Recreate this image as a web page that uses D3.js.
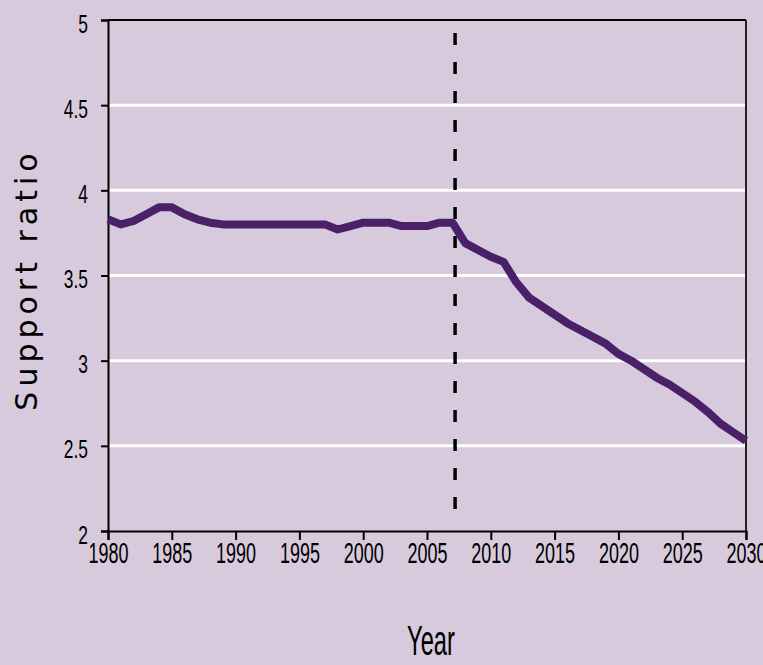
<!DOCTYPE html>
<html>
<head>
<meta charset="utf-8">
<script src="https://cdn.jsdelivr.net/npm/d3@7"></script>
<style>
  html, body { margin: 0; padding: 0; background: #d6cadc; }
  svg { display: block; }
  .tick text { font-family: "Liberation Sans", Arial, sans-serif; fill: #000; }
</style>
</head>
<body>
<div id="chart"></div>
<script>
// support ratio by year
const years = d3.range(1980, 2031);
const ratio = [
  3.83, 3.80, 3.82, 3.86, 3.90, 3.90, 3.86, 3.83, 3.81, 3.80,
  3.80, 3.80, 3.80, 3.80, 3.80, 3.80, 3.80, 3.80, 3.77, 3.79,
  3.81, 3.81, 3.81, 3.79, 3.79, 3.79, 3.81, 3.81, 3.69, 3.65,
  3.61, 3.58, 3.46, 3.37, 3.32, 3.27, 3.22, 3.18, 3.14, 3.10,
  3.04, 3.00, 2.95, 2.90, 2.86, 2.81, 2.76, 2.70, 2.63, 2.58,
  2.53
];
const xTicks = d3.range(1980, 2031, 5);
const yTicks = [2, 2.5, 3, 3.5, 4, 4.5, 5];
const splitYear = 2007.2;

const data = years.map((y, i) => ({ year: y, value: ratio[i] }));

const W = 763, H = 665;
const margin = { top: 20, right: 17, bottom: 134, left: 108 };
const width = W - margin.left - margin.right;
const height = H - margin.top - margin.bottom;

const svg = d3.select('#chart').append('svg')
  .attr('width', W)
  .attr('height', H);

const g = svg.append('g')
  .attr('transform', `translate(${margin.left},${margin.top})`);

const x = d3.scaleLinear().domain([1980, 2030]).range([0, width]);
const y = d3.scaleLinear().domain([2, 5]).range([height, 0]);

// white gridlines
g.selectAll('.grid')
  .data(yTicks.filter(d => d > 2 && d < 5))
  .enter()
  .append('line')
  .attr('x1', 0)
  .attr('x2', width)
  .attr('y1', d => y(d))
  .attr('y2', d => y(d))
  .attr('stroke', '#fff')
  .attr('stroke-width', 3);

// frame top + right
g.append('line')
  .attr('x1', 0).attr('x2', width)
  .attr('y1', 0).attr('y2', 0)
  .attr('stroke', '#000').attr('stroke-width', 2);
g.append('line')
  .attr('x1', width).attr('x2', width)
  .attr('y1', 0).attr('y2', height)
  .attr('stroke', '#222').attr('stroke-width', 2);

// axes
const gx = g.append('g')
  .attr('transform', `translate(0,${height})`)
  .call(d3.axisBottom(x).tickValues(xTicks).tickFormat(d3.format('d')).tickSize(9));

const gy = g.append('g')
  .call(d3.axisLeft(y).tickValues(yTicks).tickFormat(d => d).tickSize(7));

[gx, gy].forEach(a => {
  a.select('.domain').attr('stroke', '#000').attr('stroke-width', 2);
  a.selectAll('.tick line').attr('stroke', '#000').attr('stroke-width', 2);
});

// narrow tick labels, like the original condensed face
gx.selectAll('.tick text')
  .style('font-size', '30px')
  .attr('y', 32)
  .attr('dy', 0)
  .attr('transform', 'scale(0.6,1)');

gy.selectAll('.tick text')
  .style('font-size', '26px')
  .attr('x', 0)
  .attr('dy', 12)
  .attr('transform', 'translate(-20,0) scale(0.67,1)');

// dashed split line
g.append('line')
  .attr('x1', x(splitYear)).attr('x2', x(splitYear))
  .attr('y1', 13).attr('y2', height - 12)
  .attr('stroke', '#000')
  .attr('stroke-width', 3.5)
  .attr('stroke-dasharray', '12,17');

// series line
const line = d3.line()
  .x(d => x(d.year))
  .y(d => y(d.value));

g.append('path')
  .datum(data)
  .attr('fill', 'none')
  .attr('stroke', '#4a2068')
  .attr('stroke-width', 8)
  .attr('stroke-linejoin', 'round')
  .attr('d', line);

// axis titles
svg.append('text')
  .attr('transform', 'translate(431,655) scale(0.55,1)')
  .attr('text-anchor', 'middle')
  .style('font-family', '"Liberation Sans", Arial, sans-serif')
  .style('font-size', '43px')
  .text('Year');

svg.append('text')
  .attr('transform', `translate(37,${margin.top + height / 2 + 4}) rotate(-90)`)
  .attr('text-anchor', 'middle')
  .style('font-family', '"DejaVu Sans", sans-serif')
  .style('font-size', '30px')
  .style('letter-spacing', '5px')
  .text('Support ratio');
</script>
</body>
</html>
